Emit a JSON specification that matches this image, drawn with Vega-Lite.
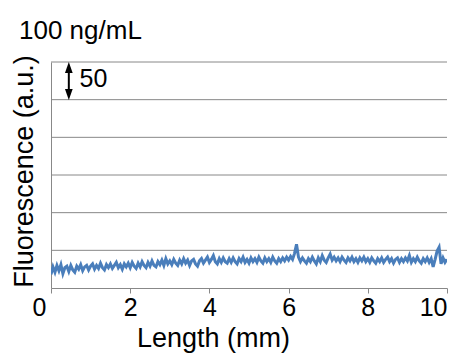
{
  "$schema": "https://vega.github.io/schema/vega-lite/v6.json",
  "width": 396,
  "height": 226,
  "autosize": {"type": "none"},
  "padding": {"left": 51, "top": 62, "right": 7, "bottom": 65},
  "background": "white",
  "config": {
    "view": {"stroke": null},
    "font": "Liberation Sans"
  },
  "title": {
    "text": "100 ng/mL",
    "anchor": "start",
    "frame": "group",
    "dx": -32,
    "offset": 11,
    "fontSize": 26,
    "fontWeight": "normal",
    "font": "Liberation Sans",
    "color": "black"
  },
  "datasets": {
    "trace": [
      {"x":0.00,"y":18},{"x":0.05,"y":28},{"x":0.10,"y":21},{"x":0.15,"y":30},{"x":0.20,"y":23},{"x":0.25,"y":31},{"x":0.30,"y":19},{"x":0.35,"y":27},{"x":0.40,"y":29},{"x":0.45,"y":22},
      {"x":0.50,"y":30},{"x":0.55,"y":24},{"x":0.60,"y":21},{"x":0.65,"y":29},{"x":0.70,"y":25},{"x":0.75,"y":31},{"x":0.80,"y":23},{"x":0.85,"y":28},{"x":0.90,"y":30},{"x":0.95,"y":24},
      {"x":1.00,"y":29},{"x":1.05,"y":32},{"x":1.10,"y":25},{"x":1.15,"y":30},{"x":1.20,"y":26},{"x":1.25,"y":33},{"x":1.30,"y":27},{"x":1.35,"y":24},{"x":1.40,"y":31},{"x":1.45,"y":27},
      {"x":1.50,"y":32},{"x":1.55,"y":26},{"x":1.60,"y":30},{"x":1.65,"y":34},{"x":1.70,"y":27},{"x":1.75,"y":31},{"x":1.80,"y":25},{"x":1.85,"y":32},{"x":1.90,"y":28},{"x":1.95,"y":33},
      {"x":2.00,"y":27},{"x":2.05,"y":34},{"x":2.10,"y":29},{"x":2.15,"y":26},{"x":2.20,"y":33},{"x":2.25,"y":28},{"x":2.30,"y":35},{"x":2.35,"y":30},{"x":2.40,"y":27},{"x":2.45,"y":34},
      {"x":2.50,"y":29},{"x":2.55,"y":36},{"x":2.60,"y":30},{"x":2.65,"y":28},{"x":2.70,"y":35},{"x":2.75,"y":31},{"x":2.80,"y":37},{"x":2.85,"y":30},{"x":2.90,"y":39},{"x":2.95,"y":32},
      {"x":3.00,"y":36},{"x":3.05,"y":31},{"x":3.10,"y":38},{"x":3.15,"y":33},{"x":3.20,"y":30},{"x":3.25,"y":37},{"x":3.30,"y":32},{"x":3.35,"y":39},{"x":3.40,"y":33},{"x":3.45,"y":37},
      {"x":3.50,"y":30},{"x":3.55,"y":36},{"x":3.60,"y":38},{"x":3.65,"y":32},{"x":3.70,"y":29},{"x":3.75,"y":36},{"x":3.80,"y":39},{"x":3.85,"y":33},{"x":3.90,"y":37},{"x":3.95,"y":41},
      {"x":4.00,"y":34},{"x":4.05,"y":38},{"x":4.10,"y":43},{"x":4.15,"y":35},{"x":4.20,"y":32},{"x":4.25,"y":39},{"x":4.30,"y":34},{"x":4.35,"y":40},{"x":4.40,"y":35},{"x":4.45,"y":33},
      {"x":4.50,"y":39},{"x":4.55,"y":34},{"x":4.60,"y":40},{"x":4.65,"y":35},{"x":4.70,"y":32},{"x":4.75,"y":39},{"x":4.80,"y":35},{"x":4.85,"y":41},{"x":4.90,"y":34},{"x":4.95,"y":38},
      {"x":5.00,"y":33},{"x":5.05,"y":40},{"x":5.10,"y":35},{"x":5.15,"y":39},{"x":5.20,"y":34},{"x":5.25,"y":41},{"x":5.30,"y":36},{"x":5.35,"y":33},{"x":5.40,"y":40},{"x":5.45,"y":35},
      {"x":5.50,"y":39},{"x":5.55,"y":34},{"x":5.60,"y":41},{"x":5.65,"y":36},{"x":5.70,"y":33},{"x":5.75,"y":39},{"x":5.80,"y":35},{"x":5.85,"y":40},{"x":5.90,"y":36},{"x":5.95,"y":41},
      {"x":6.00,"y":37},{"x":6.05,"y":42},{"x":6.10,"y":38},{"x":6.15,"y":46},{"x":6.20,"y":58},{"x":6.25,"y":41},{"x":6.30,"y":35},{"x":6.35,"y":40},{"x":6.40,"y":36},{"x":6.45,"y":33},
      {"x":6.50,"y":39},{"x":6.55,"y":35},{"x":6.60,"y":41},{"x":6.65,"y":36},{"x":6.70,"y":32},{"x":6.75,"y":40},{"x":6.80,"y":35},{"x":6.85,"y":43},{"x":6.90,"y":37},{"x":6.95,"y":34},
      {"x":7.00,"y":40},{"x":7.05,"y":45},{"x":7.10,"y":37},{"x":7.15,"y":41},{"x":7.20,"y":36},{"x":7.25,"y":40},{"x":7.30,"y":35},{"x":7.35,"y":41},{"x":7.40,"y":37},{"x":7.45,"y":34},
      {"x":7.50,"y":40},{"x":7.55,"y":36},{"x":7.60,"y":41},{"x":7.65,"y":35},{"x":7.70,"y":39},{"x":7.75,"y":34},{"x":7.80,"y":40},{"x":7.85,"y":36},{"x":7.90,"y":41},{"x":7.95,"y":35},
      {"x":8.00,"y":39},{"x":8.05,"y":34},{"x":8.10,"y":40},{"x":8.15,"y":36},{"x":8.20,"y":33},{"x":8.25,"y":39},{"x":8.30,"y":35},{"x":8.35,"y":40},{"x":8.40,"y":34},{"x":8.45,"y":38},
      {"x":8.50,"y":41},{"x":8.55,"y":35},{"x":8.60,"y":39},{"x":8.65,"y":33},{"x":8.70,"y":38},{"x":8.75,"y":40},{"x":8.80,"y":34},{"x":8.85,"y":39},{"x":8.90,"y":35},{"x":8.95,"y":40},
      {"x":9.00,"y":36},{"x":9.05,"y":43},{"x":9.10,"y":34},{"x":9.15,"y":39},{"x":9.20,"y":35},{"x":9.25,"y":41},{"x":9.30,"y":36},{"x":9.35,"y":33},{"x":9.40,"y":39},{"x":9.45,"y":35},
      {"x":9.50,"y":40},{"x":9.55,"y":34},{"x":9.60,"y":39},{"x":9.65,"y":28},{"x":9.70,"y":38},{"x":9.75,"y":49},{"x":9.80,"y":54},{"x":9.85,"y":32},{"x":9.90,"y":40},{"x":9.95,"y":34},
      {"x":10.00,"y":38}
    ],
    "grid": [{"y": 50}, {"y": 100}, {"y": 150}, {"y": 200}, {"y": 250}, {"y": 300}],
    "bar": [{"x": 0.45, "y1": 258, "y2": 292}],
    "heads": [{"x": 0.45, "y": 292.7, "dir": "up"}, {"x": 0.45, "y": 256.8, "dir": "down"}],
    "label": [{"x": 0.72, "y": 278, "t": "50"}]
  },
  "layer": [
    {
      "data": {"name": "grid"},
      "mark": {"type": "rule", "color": "#888888", "strokeWidth": 1},
      "encoding": {
        "y": {
          "field": "y", "type": "quantitative",
          "scale": {"domain": [0, 300], "nice": false},
          "axis": {
            "title": "Fluorescence (a.u.)",
            "labels": false,
            "ticks": false,
            "grid": false,
            "domainColor": "#888888",
            "domainWidth": 1,
            "titleFontSize": 27,
            "titleFontWeight": "normal",
            "titleFont": "Liberation Sans",
            "titleColor": "black",
            "titlePadding": 13,
            "titleY": 109
          }
        }
      }
    },
    {
      "data": {"name": "trace"},
      "mark": {"type": "line", "color": "#4A7EBB", "strokeWidth": 3, "clip": true},
      "encoding": {
        "x": {
          "field": "x", "type": "quantitative",
          "scale": {"domain": [0, 10], "nice": false, "zero": false},
          "axis": {
            "title": "Length (mm)",
            "values": [0, 2, 4, 6, 8, 10],
            "grid": false,
            "domainColor": "#888888",
            "domainWidth": 1,
            "tickColor": "#888888",
            "tickSize": 5,
            "labelFontSize": 25,
            "labelColor": "black",
            "labelFont": "Liberation Sans",
            "labelPadding": 2,
            "labelFlush": false,
            "labelAlign": {"condition": {"test": "datum.value === 10", "value": "right"}, "value": "center"},
            "labelOffset": {"condition": {"test": "datum.value === 0", "value": -12}, "value": 0},
            "titleFontSize": 27,
            "titleFontWeight": "normal",
            "titleFont": "Liberation Sans",
            "titleColor": "black",
            "titlePadding": 5,
            "titleX": 162
          }
        },
        "y": {
          "field": "y", "type": "quantitative",
          "scale": {"domain": [0, 300], "nice": false}
        }
      }
    },
    {
      "data": {"name": "bar"},
      "mark": {"type": "rule", "color": "black", "strokeWidth": 2},
      "encoding": {
        "x": {"field": "x", "type": "quantitative"},
        "y": {"field": "y1", "type": "quantitative"},
        "y2": {"field": "y2"}
      }
    },
    {
      "data": {"name": "heads"},
      "mark": {"type": "point", "filled": true, "color": "black", "opacity": 1, "size": 121},
      "encoding": {
        "x": {"field": "x", "type": "quantitative"},
        "y": {"field": "y", "type": "quantitative"},
        "shape": {"field": "dir", "type": "nominal", "scale": {"domain": ["up", "down"], "range": ["M0,-1L0.7,1L-0.7,1Z", "M0,1L0.7,-1L-0.7,-1Z"]}, "legend": null}
      }
    },
    {
      "data": {"name": "label"},
      "mark": {"type": "text", "align": "left", "baseline": "middle", "fontSize": 25, "color": "black", "font": "Liberation Sans"},
      "encoding": {
        "x": {"field": "x", "type": "quantitative"},
        "y": {"field": "y", "type": "quantitative"},
        "text": {"field": "t"}
      }
    }
  ]
}
